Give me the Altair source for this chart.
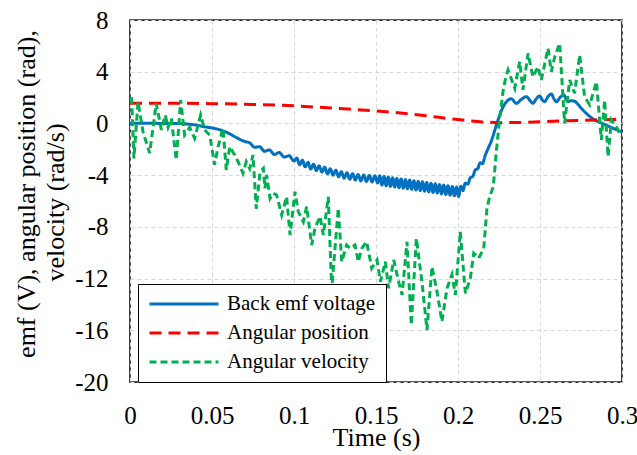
import altair as alt
import pandas as pd

FONT = "Liberation Serif"

series_names = ["Back emf voltage", "Angular position", "Angular velocity"]
series_colors = ["#0070C0", "#FF0000", "#00B050"]
series_dash = [[1, 0], [12, 7], [7, 4]]

x_ticks = [0, 0.05, 0.1, 0.15, 0.2, 0.25, 0.3]
y_ticks = [-20, -16, -12, -8, -4, 0, 4, 8]

y_title_line1 = "emf (V), angular position (rad),"
y_title_line2 = "velocity (rad/s)"
x_title = "Time (s)"

# Back emf voltage (V)
blue_time = [0, 0.01, 0.02, 0.03, 0.035, 0.04, 0.045, 0.05, 0.055, 0.06, 0.065, 0.07,
             0.073, 0.076, 0.079, 0.082, 0.085, 0.088, 0.091, 0.094, 0.097, 0.100,
             0.1017, 0.1034, 0.1051, 0.1068, 0.1085, 0.1102, 0.1119, 0.1136, 0.1153, 0.1170,
             0.1187, 0.1204, 0.1221, 0.1238, 0.1255, 0.1272, 0.1289, 0.1306, 0.1323, 0.1340,
             0.1357, 0.1374, 0.1391, 0.1408, 0.1425, 0.1442, 0.1459, 0.1476, 0.1493, 0.1510,
             0.1523, 0.1536, 0.1549, 0.1562, 0.1575, 0.1588, 0.1601, 0.1614, 0.1627, 0.1640,
             0.1653, 0.1666, 0.1679, 0.1692, 0.1705, 0.1718, 0.1731, 0.1744, 0.1757, 0.1770,
             0.1783, 0.1796, 0.1809, 0.1822, 0.1835, 0.1848, 0.1861, 0.1874, 0.1887, 0.1900,
             0.1913, 0.1926, 0.1939, 0.1952, 0.1965, 0.1978, 0.1991, 0.2004, 0.2017,
             0.2030, 0.2045, 0.2060, 0.2075, 0.2090, 0.2105, 0.2120, 0.2135, 0.2150, 0.2165,
             0.2185, 0.2205, 0.2225, 0.2245, 0.2265, 0.2285, 0.2305, 0.2325, 0.2356, 0.2385,
             0.2417, 0.2440, 0.2457, 0.2480, 0.2498, 0.2515, 0.2528, 0.2550, 0.2569, 0.2585,
             0.2600, 0.2625, 0.2646, 0.2660, 0.2671, 0.2690, 0.2711, 0.2730, 0.2752, 0.2793,
             0.2830, 0.2854, 0.2880, 0.2915, 0.2950, 0.3000]
blue_value = [0.0, 0.02, 0.0, 0.0, -0.05, -0.12, -0.25, -0.35, -0.5, -0.75, -1.1, -1.4,
              -1.50, -1.85, -1.80, -2.15, -2.05, -2.40, -2.25, -2.60, -2.50, -2.90,
              -2.68, -3.19, -2.85, -3.36, -3.01, -3.53, -3.15, -3.65, -3.27, -3.77,
              -3.39, -3.89, -3.50, -4.01, -3.62, -4.13, -3.74, -4.24, -3.82, -4.31,
              -3.89, -4.38, -3.95, -4.45, -3.99, -4.49, -4.02, -4.53, -4.05, -4.60,
              -4.05, -4.77, -4.10, -4.82, -4.15, -4.87, -4.20, -4.92, -4.25, -4.97,
              -4.29, -5.02, -4.34, -5.06, -4.38, -5.10, -4.43, -5.15, -4.47, -5.19,
              -4.51, -5.24, -4.57, -5.29, -4.62, -5.34, -4.67, -5.39, -4.72, -5.45,
              -4.77, -5.50, -4.82, -5.55, -4.87, -5.60, -4.92, -5.65, -4.85,
              -5.2, -4.6, -4.7, -4.2, -4.1, -3.6, -3.5, -3.05, -3.1, -2.5,
              -1.9, -1.3, -0.5, 0.3, 1.0, 1.5, 1.8, 1.9, 1.55, 1.85,
              2.07, 1.75, 1.56, 1.95, 2.12, 1.8, 1.68, 2.1, 2.28, 1.9,
              1.68, 2.05, 2.2, 1.85, 1.7, 1.75, 1.72, 1.5, 1.17, 0.65,
              0.3, 0.14, 0.0, -0.2, -0.4, -0.65]

# Angular position (rad)
red_time = [0, 0.025, 0.05, 0.075, 0.1, 0.125, 0.15, 0.175, 0.2, 0.215, 0.225, 0.24, 0.265, 0.285, 0.3]
red_value = [1.56, 1.56, 1.53, 1.47, 1.36, 1.17, 0.97, 0.67, 0.3, 0.12, 0.06, 0.08, 0.2, 0.27, 0.32]

# Angular velocity (rad/s)
green_points = [
    (0.0000, 1.9), (0.0010, 1.9), (0.0024, -2.7), (0.0049, 1.68), (0.0079, -0.64),
    (0.0120, -2.3), (0.0160, 1.56), (0.0191, -0.5), (0.0215, 0.65), (0.0232, -0.3),
    (0.0252, 0.4), (0.0282, -2.83), (0.0309, 1.81), (0.0333, -0.89), (0.0364, -0.3),
    (0.0394, -1.15), (0.0431, 0.65), (0.0455, -0.5), (0.0486, -0.9), (0.0516, -3.2),
    (0.0537, -1.8), (0.0567, -0.38), (0.0587, -3.6), (0.0608, -1.8), (0.0638, -2.44),
    (0.0659, -2.96), (0.0689, -3.86), (0.0709, -2.96), (0.0730, -3.5), (0.0750, -2.44),
    (0.0770, -6.6), (0.0793, -3.73), (0.0813, -3.47), (0.0823, -5.02), (0.0833, -3.99),
    (0.0854, -5.8), (0.0874, -5.4), (0.0894, -5.53), (0.0925, -7.08), (0.0955, -5.67),
    (0.0976, -8.63), (0.1006, -5.28), (0.1026, -6.82), (0.1057, -7.6), (0.1077, -6.44),
    (0.1108, -9.4), (0.1128, -8.1), (0.1159, -7.2), (0.1179, -8.63), (0.1209, -5.67),
    (0.1230, -12.8), (0.1250, -9.66), (0.1270, -6.57), (0.1291, -10.7), (0.1321, -9.4),
    (0.1341, -9.66), (0.1372, -9.4), (0.1392, -10.7), (0.1413, -9.66), (0.1443, -9.15),
    (0.1474, -11.2), (0.1506, -10.56), (0.1527, -12.24), (0.1557, -10.69), (0.1577, -12.75),
    (0.1608, -10.56), (0.1638, -12.24), (0.1659, -13.27), (0.1689, -9.15), (0.1715, -15.6),
    (0.1746, -8.89), (0.1780, -12.24), (0.1811, -15.98), (0.1841, -11.08), (0.1872, -13.0),
    (0.1902, -15.33), (0.1933, -12.75), (0.1963, -11.7), (0.1984, -13.27), (0.2014, -8.37),
    (0.2045, -13.14), (0.2075, -11.98), (0.2096, -10.04), (0.2126, -10.43), (0.2157, -9.66),
    (0.2177, -6.5), (0.2195, -5.6), (0.2215, -4.9), (0.2235, -2.0), (0.2256, 0.6),
    (0.2275, 2.5), (0.2290, 3.5), (0.2305, 4.13), (0.2346, 2.72), (0.2376, 4.78),
    (0.2396, 2.6), (0.2427, 5.42), (0.2457, 3.6), (0.2488, 4.39), (0.2508, 3.36),
    (0.2549, 5.81), (0.2569, 4.0), (0.2590, 5.16), (0.2620, 6.2), (0.2650, 0.0),
    (0.2681, 3.36), (0.2711, 2.33), (0.2742, 5.3), (0.2772, 2.07), (0.2803, 1.43),
    (0.2844, 3.23), (0.2874, -1.28), (0.2894, 1.8), (0.2915, -2.57), (0.2935, 0.27),
    (0.2965, -0.25), (0.2996, -1.03),
]

blue_df = pd.DataFrame({"t": blue_time[:len(blue_value)], "v": blue_value[:len(blue_time)], "series": series_names[0]})
red_df = pd.DataFrame({"t": red_time, "v": red_value, "series": series_names[1]})
green_df = pd.DataFrame({"t": [p[0] for p in green_points], "v": [p[1] for p in green_points], "series": series_names[2]})

x_enc = alt.X("t:Q", scale=alt.Scale(domain=[0, 0.3], nice=False, zero=False),
              axis=alt.Axis(values=x_ticks, title=x_title, labelExpr="'' + datum.value",
                            ticks=False, tickSize=0, domain=False, grid=True,
                            labelFont=FONT, labelFontSize=25, labelColor="black",
                            labelFlush=False, labelPadding=41, labelBaseline="alphabetic",
                            titleFont=FONT, titleFontSize=26,
                            titleY=63, titleBaseline="alphabetic"))
y_enc = alt.Y("v:Q", scale=alt.Scale(domain=[-20, 8], nice=False, zero=False),
              axis=alt.Axis(values=y_ticks, title=y_title_line2,
                            labelExpr="'' + datum.value", ticks=False, tickSize=0,
                            labelFont=FONT, labelFontSize=25, labelColor="black",
                            labelFlush=False,
                            domain=False, grid=True, labelPadding=22,
                            titleFont=FONT, titleFontSize=26,
                            titleX=-67, titleY=182, titleAngle=270, titleAlign="center",
                            titleBaseline="alphabetic"))

legend_kw = dict(title=None, orient="none", legendX=8, legendY=264,
                 symbolType="stroke", symbolSize=4761, symbolStrokeWidth=3,
                 labelFontSize=21, labelFont=FONT, labelColor="black", labelOffset=7,
                 rowPadding=8, padding=10, fillColor="white", strokeColor="black",
                 clipHeight=20)

color_enc = alt.Color("series:N",
                      scale=alt.Scale(domain=series_names, range=series_colors),
                      legend=alt.Legend(**legend_kw))
dash_enc = alt.StrokeDash("series:N",
                          scale=alt.Scale(domain=series_names, range=series_dash),
                          legend=alt.Legend(**legend_kw))


def layer_for(df, width, interp):
    return alt.Chart(df).mark_line(strokeWidth=width, clip=True, interpolate=interp).encode(
        x=x_enc, y=y_enc, color=color_enc, strokeDash=dash_enc
    )


chart = alt.layer(
    layer_for(blue_df, 3, "monotone"),
    layer_for(red_df, 3, "monotone"),
    layer_for(green_df, 3, "linear"),
).properties(
    width=492, height=362,
    autosize=alt.AutoSizeParams(type="none"),
    padding={"left": 130, "top": 20, "right": 15, "bottom": 73},
    background="white",
    title=alt.TitleParams(text=y_title_line1, orient="left", anchor="middle",
                          frame="group", font=FONT, fontSize=26, fontWeight="normal",
                          color="black", offset=2, dx=7),
).configure_view(
    stroke="#262626", strokeWidth=1.75
).configure_axis(
    labelFont=FONT, labelFontSize=25, labelColor="black",
    titleFont=FONT, titleFontSize=26, titleColor="black", titleFontWeight="normal",
    gridColor="#D9D9D9", gridDash=[4, 3], gridWidth=1,
)

chart.save("out.html", embed_options={"renderer": "svg", "actions": False})
